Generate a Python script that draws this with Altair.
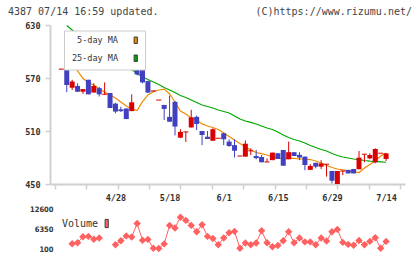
import altair as alt
import pandas as pd

MONO = "DejaVu Sans Mono"
NARROW = "Liberation Sans Narrow, DejaVu Sans Condensed, sans-serif"

# ---- data (index 0..60 = trading days) ----
opens = [580, 579, 559, 561, 554.5, 568, 553.5, 558.5, 551.5, 553,
         541, 534.5, 535.5, 532.5, 586, 579, 566.5, 555.3, 545, 539.5,
         526, 543, 502.5, 509, 514, 526, 510, 503.5, 499, 501.7,
         507.4, 498, 494, 481.7, 481, 487.7, 481.7, 480.6, 475, 477,
         484.8, 488.5, 478, 486, 483, 481, 466, 474, 469.6, 472.3,
         464.7, 450, 464.7, 466, 467, 466.7, 483.6, 479, 474.5, 484.7,
         478.3]
highs = [580, 582.5, 568, 564, 557.5, 568, 564, 560, 565, 553,
         542, 537.5, 535.5, 551.5, 588, 581, 567, 556, 545, 539.5,
         550, 544, 512, 509, 534, 527.5, 510, 510, 513, 501.7,
         508, 500.6, 500.6, 481.7, 499.3, 490.4, 488.5, 482.8, 479, 485.5,
         484.8, 488.5, 498, 486, 486, 481, 472.6, 474, 477, 472.3,
         464.7, 464.7, 464.7, 466, 467, 487.4, 483.6, 484.7, 490.4, 484.7,
         484.7]
lows = [580, 554, 556.5, 554, 552, 551.5, 553.5, 549, 551, 536,
        530, 531.5, 523.5, 532.5, 573, 564, 553, 555, 545, 522.5,
        520.5, 505, 502, 497.5, 514, 511, 494, 501, 499, 501.7,
        494, 492, 480, 481.7, 481, 482.8, 478, 474.6, 475, 477,
        478.3, 470.7, 478, 481.7, 477, 465.6, 466, 467.8, 467, 458.3,
        450.8, 450, 460, 462, 462, 466.7, 474.6, 478, 473.4, 484.7,
        476]
closes = [580, 562, 566, 554.5, 557.5, 551.5, 561, 551.5, 551.5, 536,
          532, 532.5, 523.5, 542.5, 574, 565, 553.5, 555.3, 545, 535,
          520.5, 515, 509, 509, 525.5, 518, 505.5, 501, 512, 501.7,
          500.6, 493, 487.7, 481.7, 495.6, 487.7, 479.3, 474.6, 475, 485.5,
          478.3, 470.7, 486, 481.7, 480, 471.5, 470.4, 469.6, 473.3, 472.3,
          453.7, 464.7, 464.7, 462, 462, 479.8, 483.6, 482.8, 489.6, 484.7,
          484.7]
ma5 = [None, 590.4, 584.7, 578, 569.4, 565, 562, 557.5, 554, 550.8,
       547.4, 542.8, 538.3, 535, 533.2, 543.2, 550.8, 554.5, 556.4, 557.5,
       551.9, 542.8, 532.6, 529.2, 524.7, 522.5, 518, 515.7, 514, 511.7,
       507.8, 503.8, 499.8, 495.8, 492.2, 488.5, 485.7, 484.3, 482.8, 480.6,
       479.4, 478.3, 478.9, 479.1, 478.3, 478.1, 477.7, 476, 473.8, 471,
       468.7, 467, 465.9, 464.7, 464, 463, 468.1, 472.1, 476, 481.7,
       485]
ma25 = [None, 629.4, 624.3, 619.8, 615.8, 611.9, 607.9, 604, 599.4, 595.5,
        591.5, 587.5, 583.6, 579.6, 575.1, 571.1, 568.3, 565.5, 562.6, 559.2,
        556.4, 553.6, 550.2, 547.9, 545.1, 542.3, 539.4, 537.7, 536, 533.8,
        532.1, 530.4, 527, 523.6, 521.3, 519.7, 517.9, 515.7, 513.4, 511.7,
        508.9, 505.5, 502.6, 500.4, 498.7, 496.4, 493.6, 491.3, 489.1, 487.4,
        484.5, 482.3, 480.6, 479.4, 478.3, 477.7, 476.6, 476, 475.7, 475.1,
        474.6]
volume = [None, None, 1750, 2070, 3940, 4040, 3160, 3540, None, None,
          1440, 2690, 4190, 3850, 8070, 2850, 3100, 350, 260, 1690,
          7480, 6660, 10040, 9040, 7480, 5510, 7690, 4040, 3380, 1440,
          3540, 5190, 5600, 350, 1980, 1440, 1980, 5820, 2070, 820,
          1190, 2690, 5510, 2070, 3540, 2320, 2320, 1440, 3540, 2600,
          5510, 6230, 2160, 1540, 1290, 2760, 1440, 2480, 3630, 350,
          2480]
label_pos = [10, 20, 30, 40, 50, 60]
label_text = ["4/28", "5/18", "6/1", "6/15", "6/29", "7/14"]
price_ticks = [450, 510, 570, 630]
volume_ticks = [100, 6350, 12600]
ma_names = ["5-day MA", "25-day MA"]
ma_colors = ["#f08a00", "#00a800"]
title_text = "4387 07/14 16:59 updated."
copyright_text = "(C)https://www.rizumu.net/"

UP, DOWN = "#d80000", "#4040c0"
VOL_COLOR = "#ff6060"
AXIS_GRAY = "#d0d0d0"

idx = list(range(len(opens)))
candles = pd.DataFrame({"i": idx, "open": opens, "high": highs, "low": lows, "close": closes})
candles["col"] = [UP if c >= o else DOWN for o, c in zip(opens, closes)]
ma_df = pd.concat([
    pd.DataFrame({"i": idx, "value": ma5, "series": ma_names[0]}),
    pd.DataFrame({"i": idx, "value": ma25, "series": ma_names[1]}),
]).dropna()
vol_df = pd.DataFrame({"i": idx, "vol": volume})

X_LO, X_HI = -1.17, 62.57
x_scale = alt.Scale(domain=[X_LO, X_HI], nice=False, zero=False)
tick_vals = [X_LO + k * (X_HI - X_LO) / 11 for k in range(12)]
main_y = alt.Scale(domain=[450, 630], range=[159, 0], nice=False, zero=False)
vol_y = alt.Scale(domain=[100, 12600], range=[224, 184], nice=False, zero=False)

expr = "''"
for p, t in reversed(list(zip(label_pos, label_text))):
    expr = f"datum.value == {p} ? '{t}' : ({expr})"

tick_axis = alt.Axis(values=tick_vals, labels=False, title=None, orient="bottom", offset=-65,
                     domainColor=AXIS_GRAY, domainWidth=2, tickColor=AXIS_GRAY, tickWidth=1.5,
                     tickSize=5, grid=False)
label_axis = alt.Axis(values=label_pos, labelExpr=expr, domain=False, ticks=False, title=None,
                      orient="bottom", offset=-65, labelPadding=9, labelFont=MONO, labelFontSize=8.5,
                      labelFontWeight="bold", labelColor="#333", labelOverlap=False,
                      labelFlush=False, grid=False)
price_axis = alt.Axis(values=price_ticks, orient="left", title=None, domainColor=AXIS_GRAY,
                      domainWidth=2, tickColor=AXIS_GRAY, tickWidth=1.5, tickSize=5,
                      labelPadding=5, labelFont=MONO, labelFontSize=8.5, labelFontWeight="bold",
                      labelColor="#333", grid=False)
vol_axis = alt.Axis(values=volume_ticks, format="d", orient="left", title=None, domain=False,
                    ticks=False, labelPadding={"expr": "-3"}, labelFont=NARROW, labelFontSize=7.5,
                    labelFontWeight="bold", labelColor="#333", grid=False, labelFlush=False)

base = alt.Chart(candles)
wicks = base.mark_rule(strokeWidth=1).encode(
    x=alt.X("i:Q", scale=x_scale, axis=tick_axis),
    y=alt.Y("low:Q", scale=main_y, axis=price_axis),
    y2="high:Q",
    color=alt.Color("col:N", scale=None),
)
bodies = base.mark_bar(size=5).encode(
    x=alt.X("i:Q", scale=x_scale, axis=label_axis),
    y=alt.Y("open:Q", scale=main_y, axis=None),
    y2="close:Q",
    color=alt.Color("col:N", scale=None),
)
doji = base.transform_filter("datum.open == datum.close").mark_tick(
    orient="horizontal", size=5, thickness=1.5).encode(
    x=alt.X("i:Q", scale=x_scale, axis=None),
    y=alt.Y("close:Q", scale=main_y, axis=None),
    color=alt.Color("col:N", scale=None),
)
ma_lines = alt.Chart(ma_df).mark_line(strokeWidth=1.2).encode(
    x=alt.X("i:Q", scale=x_scale, axis=None),
    y=alt.Y("value:Q", scale=main_y, axis=None),
    color=alt.Color("series:N", scale=alt.Scale(domain=ma_names, range=ma_colors), legend=None),
    detail="series:N",
)
ma_legend = alt.Chart(ma_df).transform_filter("false").mark_point(filled=True, opacity=1).encode(
    x=alt.X("i:Q", scale=x_scale, axis=None),
    y=alt.Y("value:Q", scale=main_y, axis=None),
    fill=alt.Fill("series:N", scale=alt.Scale(domain=ma_names, range=ma_colors),
                  legend=alt.Legend(orient="none", legendX=14, legendY=5.5, title=None,
                                    direction="vertical",
                                    symbolType="M-0.5,-1H0.5V1H-0.5Z", symbolSize=42,
                                    symbolStrokeColor="#3a3a3a", symbolStrokeWidth=1,
                                    symbolOpacity=1, symbolOffset=62,
                                    labelAlign="right", labelOffset={"expr": "-22"},
                                    labelFont=MONO, labelFontSize=8.5, labelColor="#333",
                                    fillColor="white", strokeColor="#cccccc", padding=5.5,
                                    rowPadding=7, labelLimit=0)),
)
vol_line = alt.Chart(vol_df).mark_line(strokeWidth=1, color=VOL_COLOR).encode(
    x=alt.X("i:Q", scale=x_scale, axis=None),
    y=alt.Y("vol:Q", scale=vol_y, axis=vol_axis),
)
vol_pts = alt.Chart(vol_df).transform_filter("isValid(datum.vol)").mark_point(
    shape="diamond", filled=True, size=55, opacity=1, color=VOL_COLOR).encode(
    x=alt.X("i:Q", scale=x_scale, axis=None),
    y=alt.Y("vol:Q", scale=vol_y, axis=None),
)
vol_legend = alt.Chart(vol_df).transform_filter("false").transform_calculate(
    s="'Volume'").mark_point(filled=True, opacity=1).encode(
    x=alt.X("i:Q", scale=x_scale, axis=None),
    y=alt.Y("vol:Q", scale=vol_y, axis=None),
    fill=alt.Fill("s:N", scale=alt.Scale(domain=["Volume"], range=["#ff6464"]),
                  legend=alt.Legend(orient="none", legendX=8, legendY=193.5, title=None,
                                    symbolType="M-0.5,-1.3H0.5V1.3H-0.5Z", symbolSize=40,
                                    symbolStrokeColor="#3a3a3a", symbolStrokeWidth=1,
                                    symbolOpacity=1, symbolOffset=43.7,
                                    labelAlign="right", labelOffset={"expr": "-13.7"},
                                    labelFont=MONO, labelFontSize=10, labelColor="#333",
                                    padding=0, labelLimit=0)),
)
header = alt.Chart(pd.DataFrame({"t": [title_text]})).mark_text(
    align="left", baseline="alphabetic", font=MONO, fontSize=10, color="#444").encode(
    text="t:N", x=alt.value(-42), y=alt.value(-10.5))
copyright = alt.Chart(pd.DataFrame({"t": [copyright_text]})).mark_text(
    align="right", baseline="alphabetic", font=MONO, fontSize=10, color="#444").encode(
    text="t:N", x=alt.value(362), y=alt.value(-10.5))

chart = alt.layer(
    ma_lines, wicks, bodies, doji, ma_legend, vol_line, vol_pts, vol_legend, header, copyright
).resolve_scale(
    y="independent", color="independent", fill="independent"
).resolve_axis(x="independent", y="independent").properties(
    width=355, height=224,
    autosize=alt.AutoSizeParams(type="none"),
    padding={"left": 50, "top": 25, "right": 15, "bottom": 10},
).configure_view(stroke=None)

chart.save("out.html", embed_options={"renderer": "svg", "actions": False})
